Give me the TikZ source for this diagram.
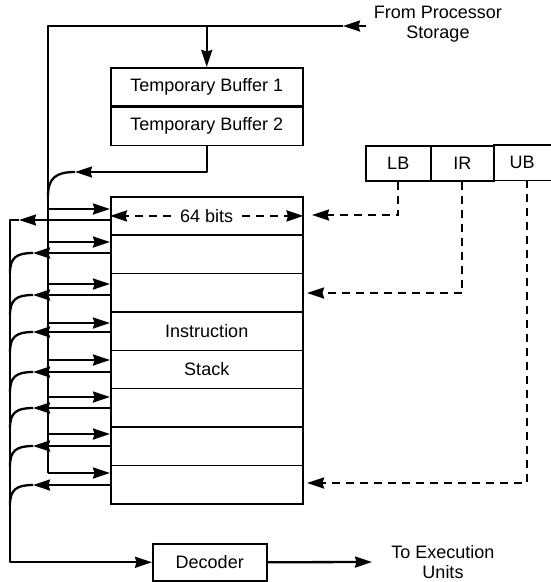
\documentclass[tikz,border=0pt]{standalone}
\usepackage{fontspec}
\setmainfont{Liberation Sans}
\usetikzlibrary{arrows.meta}
\begin{document}
\begin{tikzpicture}[x=1pt,y=-1pt,
  box/.style={draw,line width=1.5pt,inner sep=0pt,font=\fontsize{18}{20}\selectfont},
  rowbox/.style={box,minimum width=192pt,minimum height=38.375pt,anchor=north west},
  lbl/.style={inner sep=0pt,align=center,font=\fontsize{18}{20}\selectfont},
  tip/.style={-{Stealth[length=17pt,width=11pt,inset=1.5pt]}},
  wire/.style={line width=2.3pt,line join=round},
  dsh/.style={line width=2.3pt,dash pattern=on 8pt off 6pt},
]
\useasboundingbox (0,0) rectangle (551,582);

% temporary buffers
\node[box,minimum width=192pt,minimum height=38pt,anchor=north west] (tb1) at (110,67) {Temporary Buffer 1};
\node[box,minimum width=192pt,minimum height=38pt,anchor=north] (tb2) at (tb1.south) {Temporary Buffer 2};

% instruction stack rows
\foreach \i in {1,...,8}
  \node[rowbox] (r\i) at (110,{196+(\i-1)*38.375}) {};
\node[lbl] (instr) at (r4.center) {Instruction};
\node[lbl] (stk) at (r5.center) {Stack};
\node[lbl,fill=white,inner xsep=9pt,inner ysep=2pt] (bits) at (r1.center) {64 bits};
\draw[dsh,tip] (bits.west) -- (r1.west);
\draw[dsh,tip] (bits.east) -- (r1.east);

% registers
\node[box,minimum width=65pt,minimum height=35pt,anchor=north west] (lb) at (365,145) {LB};
\node[box,minimum width=63pt,minimum height=35pt,anchor=north west] (ir) at (430,145) {IR};
\node[lbl,minimum width=58pt,minimum height=35pt,anchor=north west] (ub) at (493,145) {UB};
\draw[line width=1.5pt] (ub.north west) -- (ub.north east);
\draw[line width=1.5pt] (ub.south west) -- (ub.south east);

% dashed register pointers
\coordinate (lbT) at (312,215);
\coordinate (irT) at (307,293);
\coordinate (ubT) at (307,483);
\draw[dsh,tip] (lb.south) |- (lbT);
\draw[dsh,tip] (ir.south) |- (irT);
\draw[dsh,tip] ([xshift=5pt]ub.south) |- (ubT);

% input from processor storage
\coordinate (src) at (366,26);
\coordinate (srcA) at (343,26);
\coordinate (busT) at (48,26);
\node[lbl] (from) at (438,24) {From Processor\\Storage};
\draw[wire,tip] (src) -- (srcA);
\draw[wire] (srcA) -- (busT) -- (48,473);
\draw[wire,tip] (tb1.north |- busT) -- (tb1.north);

% buffer output merging into bus
\coordinate (tbA) at (75,172);
\draw[wire,tip] (tb2.south) |- (tbA);
\draw[wire] (tbA) .. controls (56,172) and (48,178) .. (48,196);

% right arrows into each row
\foreach \i/\yr in {1/209,2/242,3/284,4/323,5/360,6/397,7/434,8/473}
  \draw[wire,tip] (48,\yr) -- (r\i.west |- 0,\yr);

% decoder
\node[box,minimum width=114pt,minimum height=37pt,anchor=north west] (dec) at (152,543) {Decoder};
\coordinate (exu) at (372,562);
\draw[wire,tip] (dec.east) -- (exu);
\node[lbl] (to) at (443,562) {To Execution\\Units};

% left arrows out of each row
\coordinate (l1) at (19,220);
\draw[wire,tip] (r1.west |- l1) -- (l1);
\draw[wire,tip] (l1) -- (10,220) |- (dec.west);
\foreach \i/\yl in {2/253,3/295,4/332,5/372,6/408,7/446,8/485}{
  \draw[wire,tip] (r\i.west |- 0,\yl) -- (33,\yl);
  \draw[wire] (33,\yl) .. controls (16,\yl) and (10,{\yl+5}) .. (10,{\yl+20});
}
\end{tikzpicture}
\end{document}
